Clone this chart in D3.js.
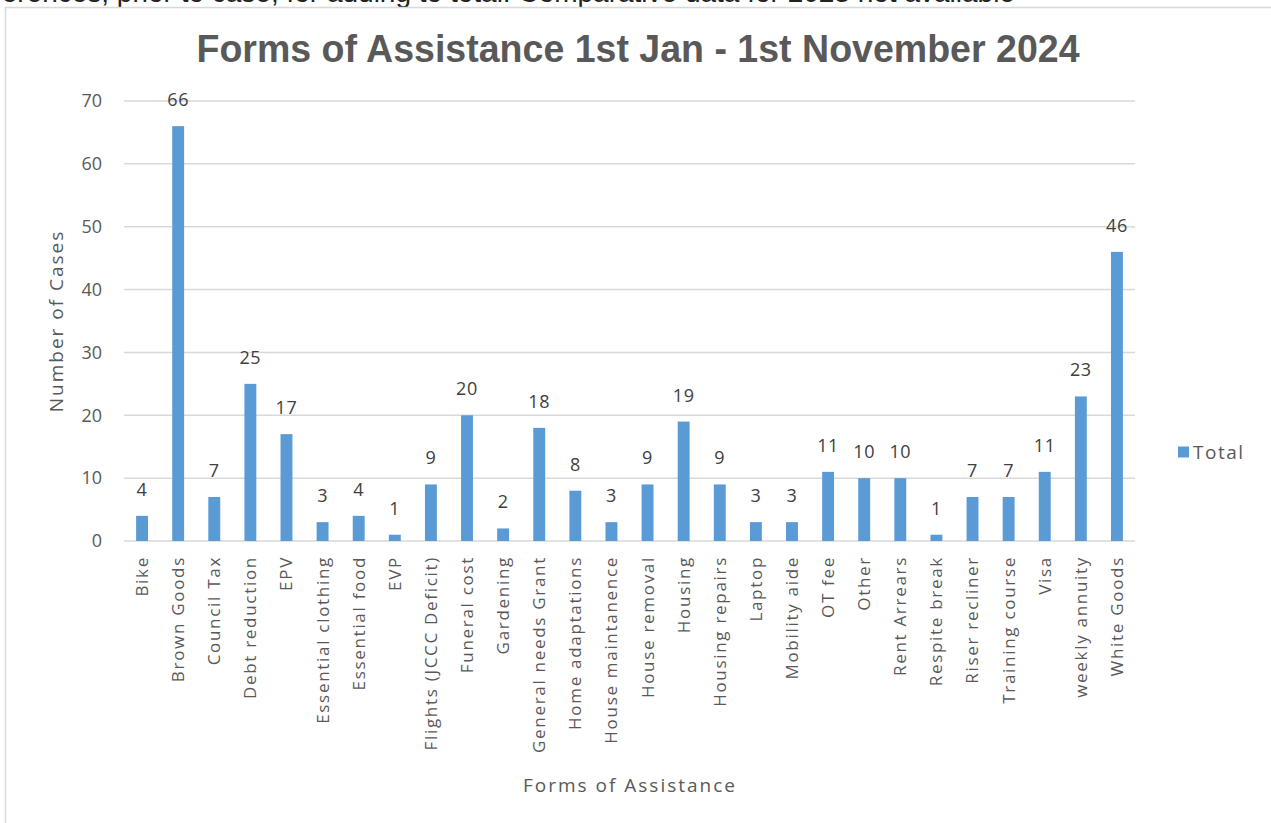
<!DOCTYPE html>
<html>
<head>
<meta charset="utf-8">
<script src="https://cdn.jsdelivr.net/npm/d3@7"></script>
<style>
  html, body { margin: 0; padding: 0; background: #fff; overflow: hidden; }
  svg { display: block; }
</style>
</head>
<body>
<svg id="chart"></svg>
<script>
const categories = [
    "Bike", "Brown Goods", "Council Tax", "Debt reduction", "EPV",
    "Essential clothing", "Essential food", "EVP", "Flights (JCCC Deficit)",
    "Funeral cost", "Gardening", "General needs Grant", "Home adaptations",
    "House maintanence", "House removal", "Housing", "Housing repairs",
    "Laptop", "Mobility aide", "OT fee", "Other", "Rent Arrears",
    "Respite break", "Riser recliner", "Training course", "Visa",
    "weekly annuity", "White Goods"
];
const totals = [4, 66, 7, 25, 17, 3, 4, 1, 9, 20, 2, 18, 8, 3, 9, 19, 9, 3, 3, 11, 10, 10, 1, 7, 7, 11, 23, 46];
const yTicks = [0, 10, 20, 30, 40, 50, 60, 70];
const seriesName = "Total";
const titleText = "Forms of Assistance 1st Jan - 1st November 2024";
const xTitle = "Forms of Assistance";
const yTitle = "Number of Cases";
const clippedLine = "references, prior to case, for adding to total. Comparative data for 2023 not available";

const width = 1271, height = 823;
const margin = { top: 101, right: 136, bottom: 282, left: 124 };
const barColor = "#5b9bd5";
const labelGray = "#595959";

const data = categories.map((name, i) => ({ name, value: totals[i] }));

const svg = d3.select("#chart")
    .attr("width", width)
    .attr("height", height)
    .style("font-family", "'Open Sans', 'DejaVu Sans', sans-serif");

// the document line above the chart, only its lower edge shows
svg.append("text")
    .attr("x", -31)
    .attr("y", 1.5)
    .attr("font-family", "'Liberation Sans', Arial, sans-serif")
    .attr("font-size", 28)
    .attr("fill", "#222")
    .text(clippedLine);

// chart frame
svg.append("rect")
    .attr("x", 5.5)
    .attr("y", 7.5)
    .attr("width", width + 10)
    .attr("height", height + 10)
    .attr("fill", "#fff")
    .attr("stroke", "#d9d9d9")
    .attr("stroke-width", 1.5);

const x = d3.scaleBand()
    .domain(categories)
    .range([margin.left, width - margin.right])
    .paddingInner(0.67)
    .paddingOuter(0.335);

const y = d3.scaleLinear()
    .domain([0, 70])
    .range([height - margin.bottom, margin.top]);

// gridlines
svg.append("g")
    .selectAll("line")
    .data(yTicks)
    .join("line")
    .attr("x1", margin.left)
    .attr("x2", width - margin.right)
    .attr("y1", d => y(d))
    .attr("y2", d => y(d))
    .attr("stroke", "#d9d9d9")
    .attr("stroke-width", 1.5);

// y axis
const yAxis = svg.append("g")
    .attr("transform", `translate(${margin.left}, 0)`)
    .call(d3.axisLeft(y).tickValues(yTicks).tickSize(0).tickPadding(22));
yAxis.select(".domain").remove();
yAxis.selectAll("text")
    .attr("font-size", 18)
    .attr("font-family", "'Open Sans', sans-serif")
    .attr("fill", labelGray);

// bars
svg.append("g")
    .selectAll("rect")
    .data(data)
    .join("rect")
    .attr("x", d => x(d.name))
    .attr("y", d => y(d.value))
    .attr("width", x.bandwidth())
    .attr("height", d => y(0) - y(d.value))
    .attr("fill", barColor);

// value labels
svg.append("g")
    .attr("text-anchor", "middle")
    .selectAll("text")
    .data(data)
    .join("text")
    .attr("x", d => x(d.name) + x.bandwidth() / 2)
    .attr("y", d => y(d.value) - 20)
    .attr("font-size", 18)
    .attr("letter-spacing", 0.6)
    .attr("fill", "#404040")
    .text(d => d.value);

// x axis
const xAxis = svg.append("g")
    .attr("transform", `translate(0, ${y(0)})`)
    .call(d3.axisBottom(x).tickSize(0).tickPadding(0));
xAxis.select(".domain").remove();
xAxis.selectAll("text")
    .attr("transform", "rotate(-90)")
    .attr("text-anchor", "end")
    .attr("dy", "0.35em")
    .attr("x", -15)
    .attr("y", 0)
    .attr("font-size", 17)
    .attr("letter-spacing", 1.7)
    .attr("font-family", "'Open Sans', sans-serif")
    .attr("fill", labelGray);

// title
svg.append("text")
    .attr("x", 638)
    .attr("y", 62)
    .attr("text-anchor", "middle")
    .attr("font-family", "'Liberation Sans Narrow', 'Liberation Sans', Arial, sans-serif")
    .attr("font-weight", "bold")
    .attr("font-size", 38)
    .attr("fill", labelGray)
    .attr("textLength", 883)
    .attr("lengthAdjust", "spacingAndGlyphs")
    .text(titleText);

// axis titles
svg.append("text")
    .attr("x", 630)
    .attr("y", 792)
    .attr("text-anchor", "middle")
    .attr("font-size", 19)
    .attr("letter-spacing", 2)
    .attr("fill", labelGray)
    .text(xTitle);

svg.append("text")
    .attr("transform", `translate(63, ${y(35)}) rotate(-90)`)
    .attr("text-anchor", "middle")
    .attr("font-size", 19)
    .attr("letter-spacing", 2)
    .attr("fill", labelGray)
    .text(yTitle);

// legend
const legend = svg.append("g")
    .attr("transform", `translate(1178, 452)`);
legend.append("rect")
    .attr("x", 0)
    .attr("y", -5.5)
    .attr("width", 11)
    .attr("height", 11)
    .attr("fill", barColor);
legend.append("text")
    .attr("x", 15)
    .attr("y", 0)
    .attr("dy", "0.35em")
    .attr("font-size", 19)
    .attr("letter-spacing", 1.5)
    .attr("fill", labelGray)
    .text(seriesName);
</script>
</body>
</html>
